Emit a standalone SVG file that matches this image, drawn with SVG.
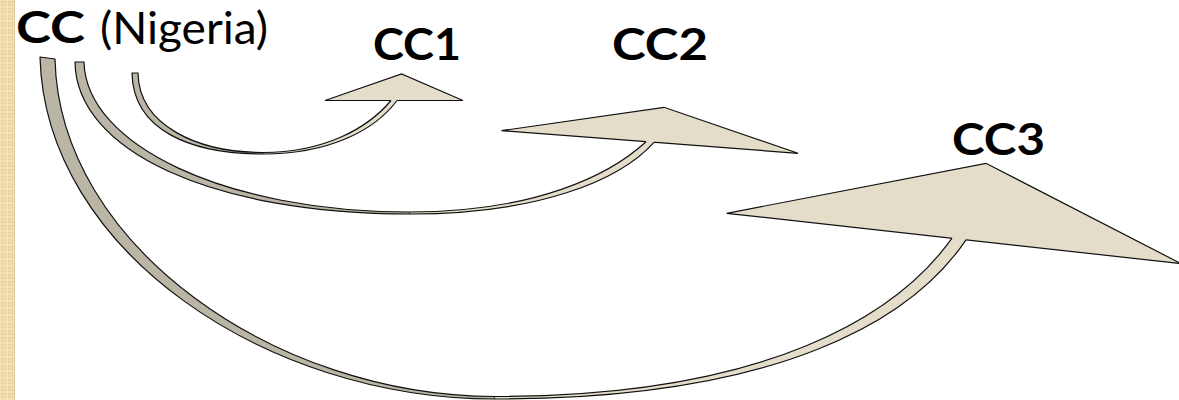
<svg xmlns="http://www.w3.org/2000/svg" width="1179" height="400" viewBox="0 0 1179 400">
  <defs>
    <pattern id="weave" x="0" y="0" width="7" height="7" patternUnits="userSpaceOnUse">
      <rect width="7" height="7" fill="#F3E3B6"/>
      <rect x="1" y="1" width="5" height="5" fill="#E4D2A2"/>
      <rect x="2" y="2" width="3" height="3" fill="#F0DEAF"/>
    </pattern>
    <style>
      .lbl { font-family: "Lato", "Open Sans", "Liberation Sans", sans-serif; fill: #000; }
      .bold { font-weight: 700; font-size: 43px; }
      .reg { font-weight: 400; font-size: 44px; }
      .back { fill: #BBB5A5; stroke: #111; stroke-width: 1.2; stroke-linejoin: round; }
      .front { fill: #E4DDC9; stroke: none; }
      .edge { fill: none; stroke: #111; stroke-width: 1.2; }
      .head { fill: #E4DDC9; stroke: #111; stroke-width: 1.2; stroke-linejoin: miter; }
    </style>
  </defs>

  <rect width="1179" height="400" fill="#FFFFFF"/>
  <!-- textured side band -->
  <rect x="0" y="0" width="15" height="400" fill="url(#weave)"/>
  <rect x="14" y="0" width="1" height="400" fill="#D8C797"/>

  <g id="connectors">
    <!-- CC to CC3 -->
    <g id="arrow-cc3">
      <path class="back" d="M40,57 L55,59 C59,245 275,396.5 495,396.5 L495,399 C265,399 45,250 40,57 Z"/>
      <polygon class="head" points="726.7,213.3 986,163.3 1181,263.6"/>
      <path class="front" d="M495,396.5 C770,396.5 898,314 952,238.2 L952,234 L966,235.5 L966,239.8 C912,320 780,399 495,399 Z"/>
      <path class="edge" d="M495,396.5 C770,396.5 898,314 952,238.2"/>
      <path class="edge" d="M495,399 C780,399 912,320 966,239.8"/>
    </g>
    <!-- CC to CC2 -->
    <g id="arrow-cc2">
      <path class="back" d="M75,62 L84,62 C86,145 225,212 410,212 L410,214 C210,214 76,150 75,62 Z"/>
      <polygon class="head" points="501.5,130.7 664,107.3 798,153.3"/>
      <path class="front" d="M410,212 C535,212 610,175 646,141.7 L646,138 L654,138.5 L654,142.3 C620,180 540,214 410,214 Z"/>
      <path class="edge" d="M410,212 C535,212 610,175 646,141.7"/>
      <path class="edge" d="M410,214 C540,214 620,180 654,142.3"/>
    </g>
    <!-- CC to CC1 -->
    <g id="arrow-cc1">
      <path class="back" d="M132,73 L138,73 C139,126 198,152.5 263,152.5 L263,154 C190,154 133,130 132,73 Z"/>
      <polygon class="head" points="325,100.5 401.5,74 463,100.5"/>
      <path class="front" d="M263,152.5 C325,152.5 368,128 391,100.5 L391,97 L397,97 L397,100.5 C375,130 330,154 263,154 Z"/>
      <path class="edge" d="M263,152.5 C325,152.5 368,128 391,100.5"/>
      <path class="edge" d="M263,154 C330,154 375,130 397,100.5"/>
    </g>
  </g>

  <g id="node-cc">
    <text class="lbl bold" x="16" y="43" textLength="69" lengthAdjust="spacingAndGlyphs">CC</text>
    <text class="lbl reg" x="100" y="44" textLength="168" lengthAdjust="spacingAndGlyphs">(Nigeria)</text>
  </g>
  <g id="node-cc1">
    <text class="lbl bold" x="373" y="60" textLength="88" lengthAdjust="spacingAndGlyphs">CC1</text>
  </g>
  <g id="node-cc2">
    <text class="lbl bold" x="612" y="60" textLength="96" lengthAdjust="spacingAndGlyphs">CC2</text>
  </g>
  <g id="node-cc3">
    <text class="lbl bold" x="952" y="155" textLength="93" lengthAdjust="spacingAndGlyphs">CC3</text>
  </g>
</svg>
